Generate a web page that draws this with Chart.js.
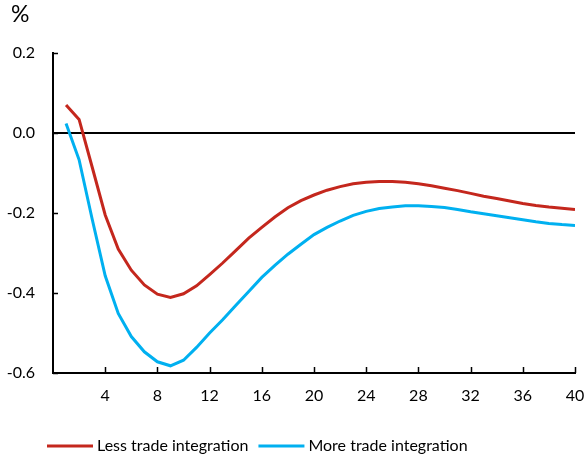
<!DOCTYPE html>
<html>
<head>
<meta charset="utf-8">
<script src="https://cdn.jsdelivr.net/npm/chart.js@4.4.1/dist/chart.umd.min.js"></script>
<style>
  html, body { margin: 0; padding: 0; background: #ffffff; }
  #wrap { position: relative; width: 587px; height: 463px; }
</style>
</head>
<body>
<div id="wrap"><canvas id="c" width="587" height="463"></canvas></div>
<script>
const periods = [1,2,3,4,5,6,7,8,9,10,11,12,13,14,15,16,17,18,19,20,21,22,23,24,25,26,27,28,29,30,31,32,33,34,35,36,37,38,39,40];
const lessTrade = [0.070,0.034,-0.085,-0.205,-0.290,-0.343,-0.380,-0.403,-0.411,-0.402,-0.382,-0.354,-0.325,-0.294,-0.263,-0.236,-0.210,-0.187,-0.169,-0.155,-0.143,-0.134,-0.127,-0.123,-0.121,-0.121,-0.123,-0.127,-0.132,-0.138,-0.144,-0.151,-0.158,-0.164,-0.170,-0.176,-0.181,-0.185,-0.188,-0.191];
const moreTrade = [0.024,-0.067,-0.215,-0.357,-0.451,-0.509,-0.547,-0.572,-0.582,-0.568,-0.536,-0.500,-0.467,-0.431,-0.396,-0.361,-0.331,-0.303,-0.278,-0.254,-0.236,-0.220,-0.206,-0.196,-0.189,-0.185,-0.182,-0.182,-0.184,-0.186,-0.191,-0.197,-0.202,-0.207,-0.212,-0.217,-0.222,-0.226,-0.229,-0.231];
const xTicks = [4,8,12,16,20,24,28,32,36,40];
const yTicks = [0.2,0.0,-0.2,-0.4,-0.6];
const seriesNames = ['Less trade integration','More trade integration'];
const unitLabel = '%';

const RED = '#C4271D';
const BLUE = '#00B0F0';
const FONT = 'Lato, "Open Sans", sans-serif';

const toXY = arr => arr.map((v, i) => ({ x: periods[i], y: v }));

const decor = {
  id: 'decor',
  afterDraw(chart) {
    const ctx = chart.ctx;
    const xs = chart.scales.x, ys = chart.scales.y;
    const ca = chart.chartArea;
    ctx.save();
    ctx.strokeStyle = '#000';
    ctx.lineWidth = 1.5;
    xTicks.forEach(t => {
      const px = Math.round(xs.getPixelForValue(t)) + 0.5;
      ctx.beginPath();
      ctx.moveTo(px, ca.bottom);
      ctx.lineTo(px, ca.bottom - 6);
      ctx.stroke();
    });
    yTicks.forEach(t => {
      const py = Math.round(ys.getPixelForValue(t)) + 0.5;
      ctx.beginPath();
      ctx.moveTo(ca.left, py);
      ctx.lineTo(ca.left + 5, py);
      ctx.stroke();
    });
    ctx.fillStyle = '#000';
    ctx.font = '23px ' + FONT;
    ctx.textBaseline = 'top';
    ctx.textAlign = 'left';
    ctx.fillText(unitLabel, 11, 3);
    ctx.font = '16px ' + FONT;
    ctx.textBaseline = 'middle';
    const ly = 446;
    let lx = 47;
    chart.data.datasets.forEach((ds, i) => {
      ctx.strokeStyle = ds.borderColor;
      ctx.lineWidth = 3;
      ctx.beginPath();
      ctx.moveTo(lx, ly);
      ctx.lineTo(lx + 46, ly);
      ctx.stroke();
      ctx.fillStyle = '#000';
      ctx.fillText(ds.label, lx + 50, ly);
      lx += 50 + ctx.measureText(ds.label).width + 10;
    });
    ctx.restore();
  }
};

new Chart(document.getElementById('c'), {
  type: 'line',
  data: {
    datasets: [
      { label: seriesNames[0], data: toXY(lessTrade), borderColor: RED, backgroundColor: RED, borderWidth: 3, pointRadius: 0, tension: 0, fill: false },
      { label: seriesNames[1], data: toXY(moreTrade), borderColor: BLUE, backgroundColor: BLUE, borderWidth: 3, pointRadius: 0, tension: 0, fill: false }
    ]
  },
  options: {
    responsive: false,
    animation: false,
    layout: { padding: { top: 53, right: 12, bottom: 50, left: 0 } },
    plugins: { legend: { display: false }, tooltip: { enabled: false }, title: { display: false } },
    scales: {
      x: {
        type: 'linear', min: 0, max: 40,
        afterBuildTicks: s => { s.ticks = xTicks.map(v => ({ value: v })); },
        afterFit: s => { s.height = 40; s.paddingRight = 0; s.paddingLeft = 0; },
        grid: { display: false, drawTicks: false },
        border: { display: true, color: '#000', width: 2 },
        ticks: { color: '#000', font: { family: FONT, size: 16 }, padding: 13, maxRotation: 0 }
      },
      y: {
        min: -0.6, max: 0.2,
        afterBuildTicks: s => { s.ticks = yTicks.map(v => ({ value: v })); },
        afterFit: s => { s.width = 53; s.paddingTop = 0; s.paddingBottom = 0; },
        grid: {
          drawTicks: false,
          color: c => (Math.abs(c.tick.value) < 1e-9 ? '#000' : 'rgba(0,0,0,0)'),
          lineWidth: c => (Math.abs(c.tick.value) < 1e-9 ? 2 : 0)
        },
        border: { display: true, color: '#000', width: 2 },
        ticks: { color: '#000', font: { family: FONT, size: 16 }, padding: 18, callback: v => v.toFixed(1) }
      }
    }
  },
  plugins: [decor]
});
</script>
</body>
</html>
